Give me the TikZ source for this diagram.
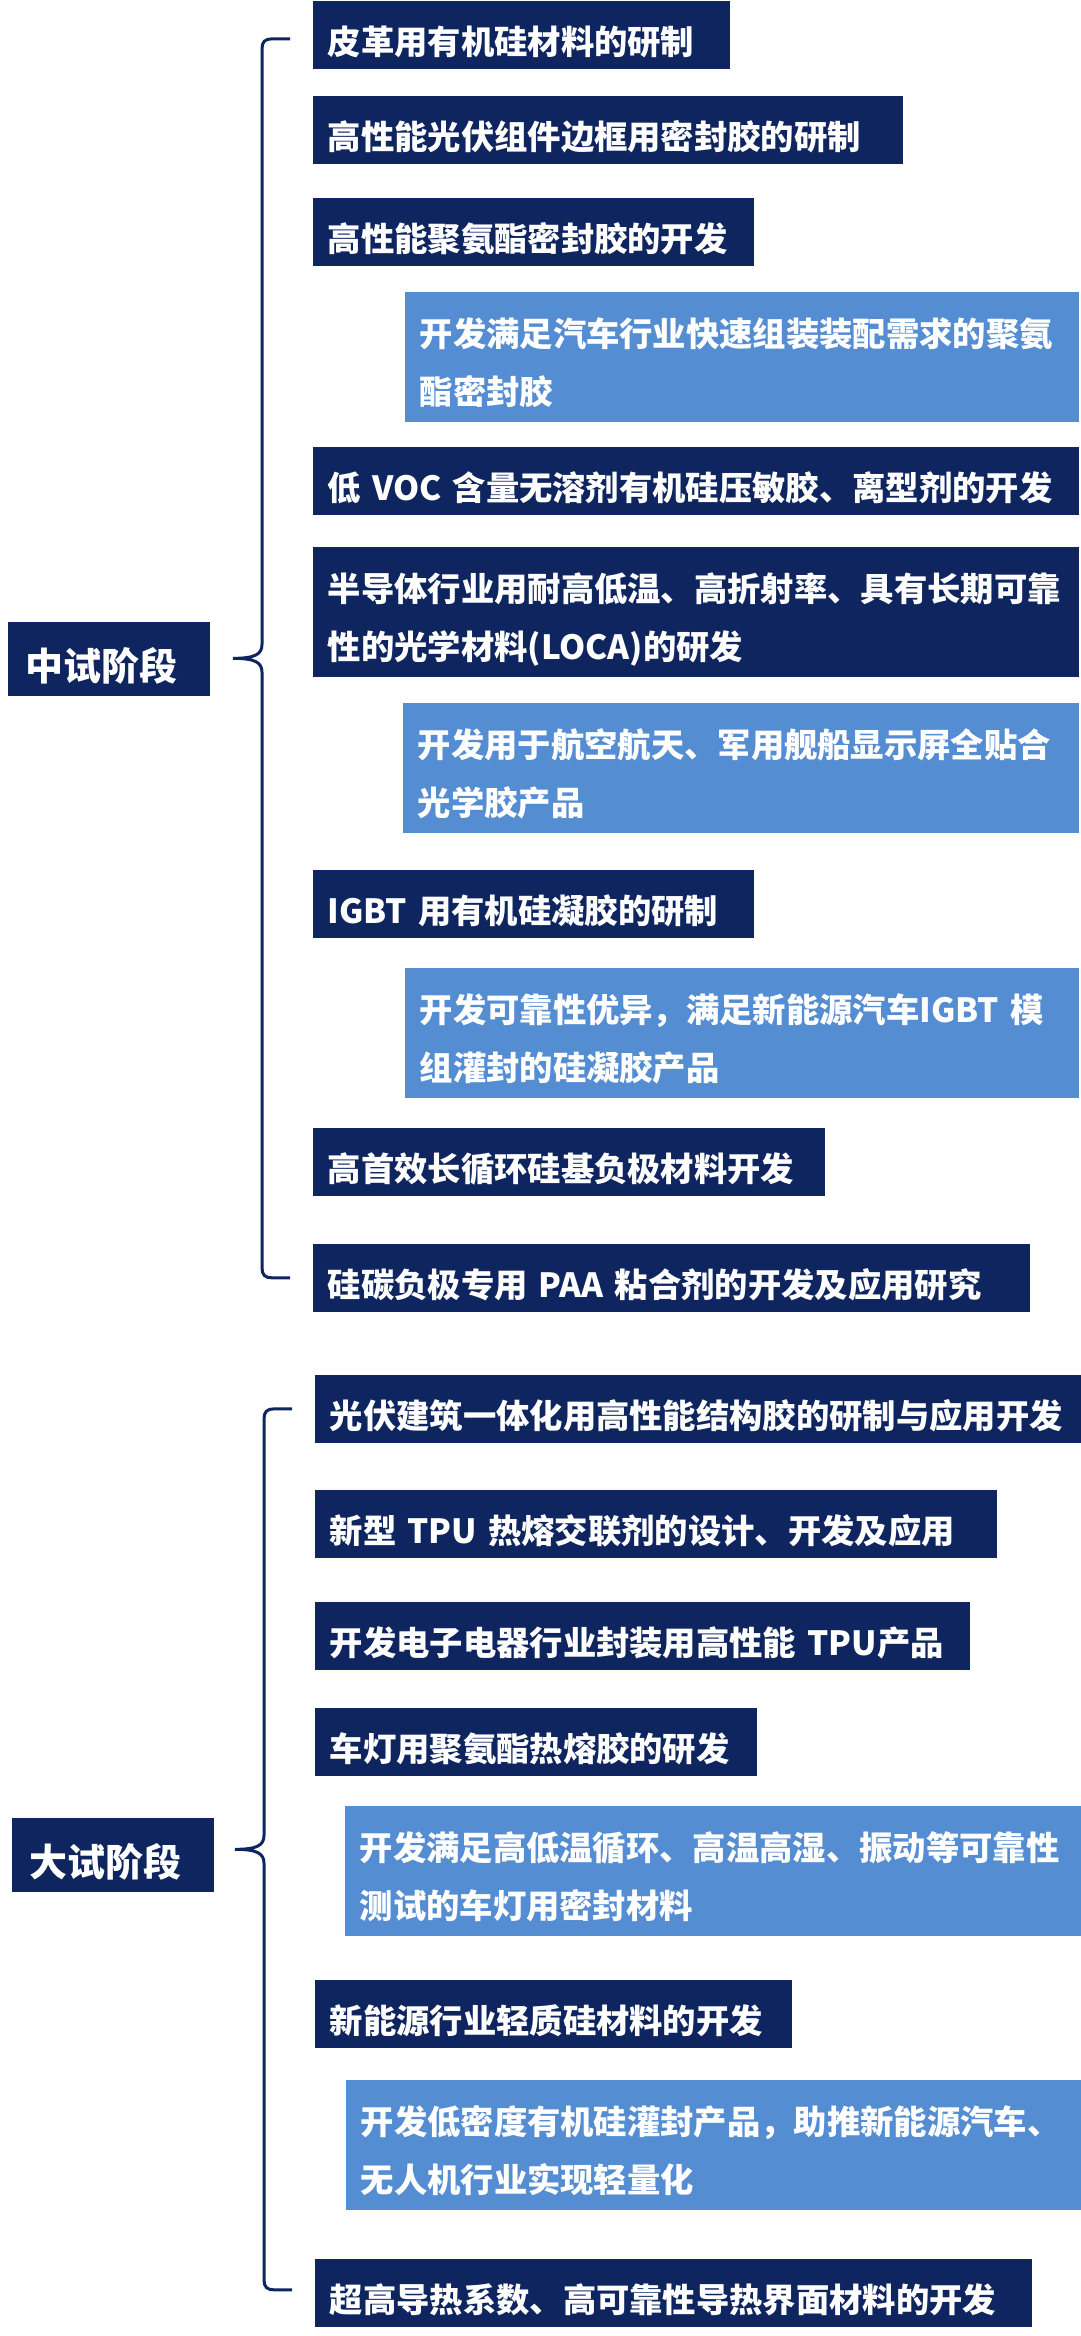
\documentclass[tikz,border=0pt]{standalone}
\usepackage{fontspec}
\setmainfont{Noto Sans CJK SC}
\usetikzlibrary{calc}
\definecolor{navy}{RGB}{14,37,96}
\definecolor{skyblue}{RGB}{85,141,210}
% bracket from the top arm (#1) to the bottom arm (#2), tip halfway
\newcommand{\groupbrace}[2]{%
  \draw[bracket] (#1) -- ++(-18,0) .. controls +(-7,0) and +(0,-7) .. ++(-10,10)
    -- ($(#1)!0.5!(#2)+(-28,-14)$) .. controls +(0,10) and +(22,0) .. ($(#1)!0.5!(#2)+(-57,0)$)
    .. controls +(22,0) and +(0,-10) .. ($(#1)!0.5!(#2)+(-28,14)$)
    -- ($(#2)+(-28,-10)$) .. controls +(0,7) and +(-7,0) .. ($(#2)+(-18,0)$) -- (#2);}

\begin{document}
\begin{tikzpicture}[x=0.3pt, y=-0.3pt,
  item/.style={fill=navy, text=white, anchor=north west, align=left,
    font=\bfseries\fontsize{10pt}{17.4pt}\selectfont,
    inner xsep=4.5pt, inner ysep=0pt, text height=13pt, text depth=1.5pt,
    minimum height=20.5pt},
  twoline/.style={minimum height=39pt, text depth=18.9pt},
  detail/.style={item, twoline, fill=skyblue},
  stage/.style={fill=navy, text=white, anchor=north west, align=left,
    font=\bfseries\fontsize{11.4pt}{13pt}\selectfont,
    inner xsep=5.4pt, inner ysep=0pt, text width=49.8pt,
    text height=14.5pt, text depth=1.5pt, minimum height=22.4pt},
  bracket/.style={draw=navy, line width=0.9pt}]
\fill[white] (0,0) rectangle (1080,2336);
% First stage and its items
\node[stage] (zs) at (7,621) {中试阶段};
\node[item, text width=116.1pt] (m1) at (312,0) {皮革用有机硅材料的研制};
\node[item, text width=168pt] (m2) at (312,95) {高性能光伏组件边框用密封胶的研制};
\node[item, text width=123.3pt] (m3) at (312,197) {高性能聚氨酯密封胶的开发};
\node[detail, text width=193.2pt] (s1) at (404,291) {开发满足汽车行业快速组装装配需求的聚氨\\酯密封胶};
\node[item, text width=220.8pt] (m4) at (312,446) {低~VOC~含量无溶剂有机硅压敏胶、离型剂的开发};
\node[item, twoline, text width=220.8pt] (m5) at (312,546) {半导体行业用耐高低温、高折射率、具有长期可靠\\性的光学材料(LOCA)的研发};
\node[detail, text width=193.8pt] (s2) at (402,702) {开发用于航空航天、军用舰船显示屏全贴合\\光学胶产品};
\node[item, text width=123.3pt] (m6) at (312,869) {IGBT~用有机硅凝胶的研制};
\node[detail, text width=193.2pt] (s3) at (404,967) {开发可靠性优异，满足新能源汽车IGBT~模\\组灌封的硅凝胶产品};
\node[item, text width=144.6pt] (m7) at (312,1127) {高首效长循环硅基负极材料开发};
\node[item, text width=206.1pt] (m8) at (312,1243) {硅碳负极专用~PAA~粘合剂的开发及应用研究};
% Second stage and its items
\node[stage] (ds) at (11,1817) {大试阶段};
\node[item, text width=220.8pt] (d1) at (314,1374) {光伏建筑一体化用高性能结构胶的研制与应用开发};
\node[item, text width=195.6pt] (d2) at (314,1489) {新型~TPU~热熔交联剂的设计、开发及应用};
\node[item, text width=187.5pt] (d3) at (314,1601) {开发电子电器行业封装用高性能~TPU产品};
\node[item, text width=123.6pt] (d4) at (314,1707) {车灯用聚氨酯热熔胶的研发};
\node[detail, text width=211.8pt] (t1) at (344,1805) {开发满足高低温循环、高温高湿、振动等可靠性\\测试的车灯用密封材料};
\node[item, text width=134.1pt] (d5) at (314,1979) {新能源行业轻质硅材料的开发};
\node[detail, text width=211.5pt] (t2) at (345,2079) {开发低密度有机硅灌封产品，助推新能源汽车、\\无人机行业实现轻量化};
\node[item, text width=206.1pt] (d6) at (314,2258) {超高导热系数、高可靠性导热界面材料的开发};
% The two brackets
\coordinate (zsn) at ($(m1.west)+(-22,4)$);
\coordinate (zss) at ($(m8.west)+(-22,0)$);
\coordinate (dsn) at ($(d1.west)+(-22,0)$);
\coordinate (dss) at ($(d6.west)+(-22,-3)$);
\groupbrace{zsn}{zss}
\groupbrace{dsn}{dss}
\end{tikzpicture}
\end{document}
